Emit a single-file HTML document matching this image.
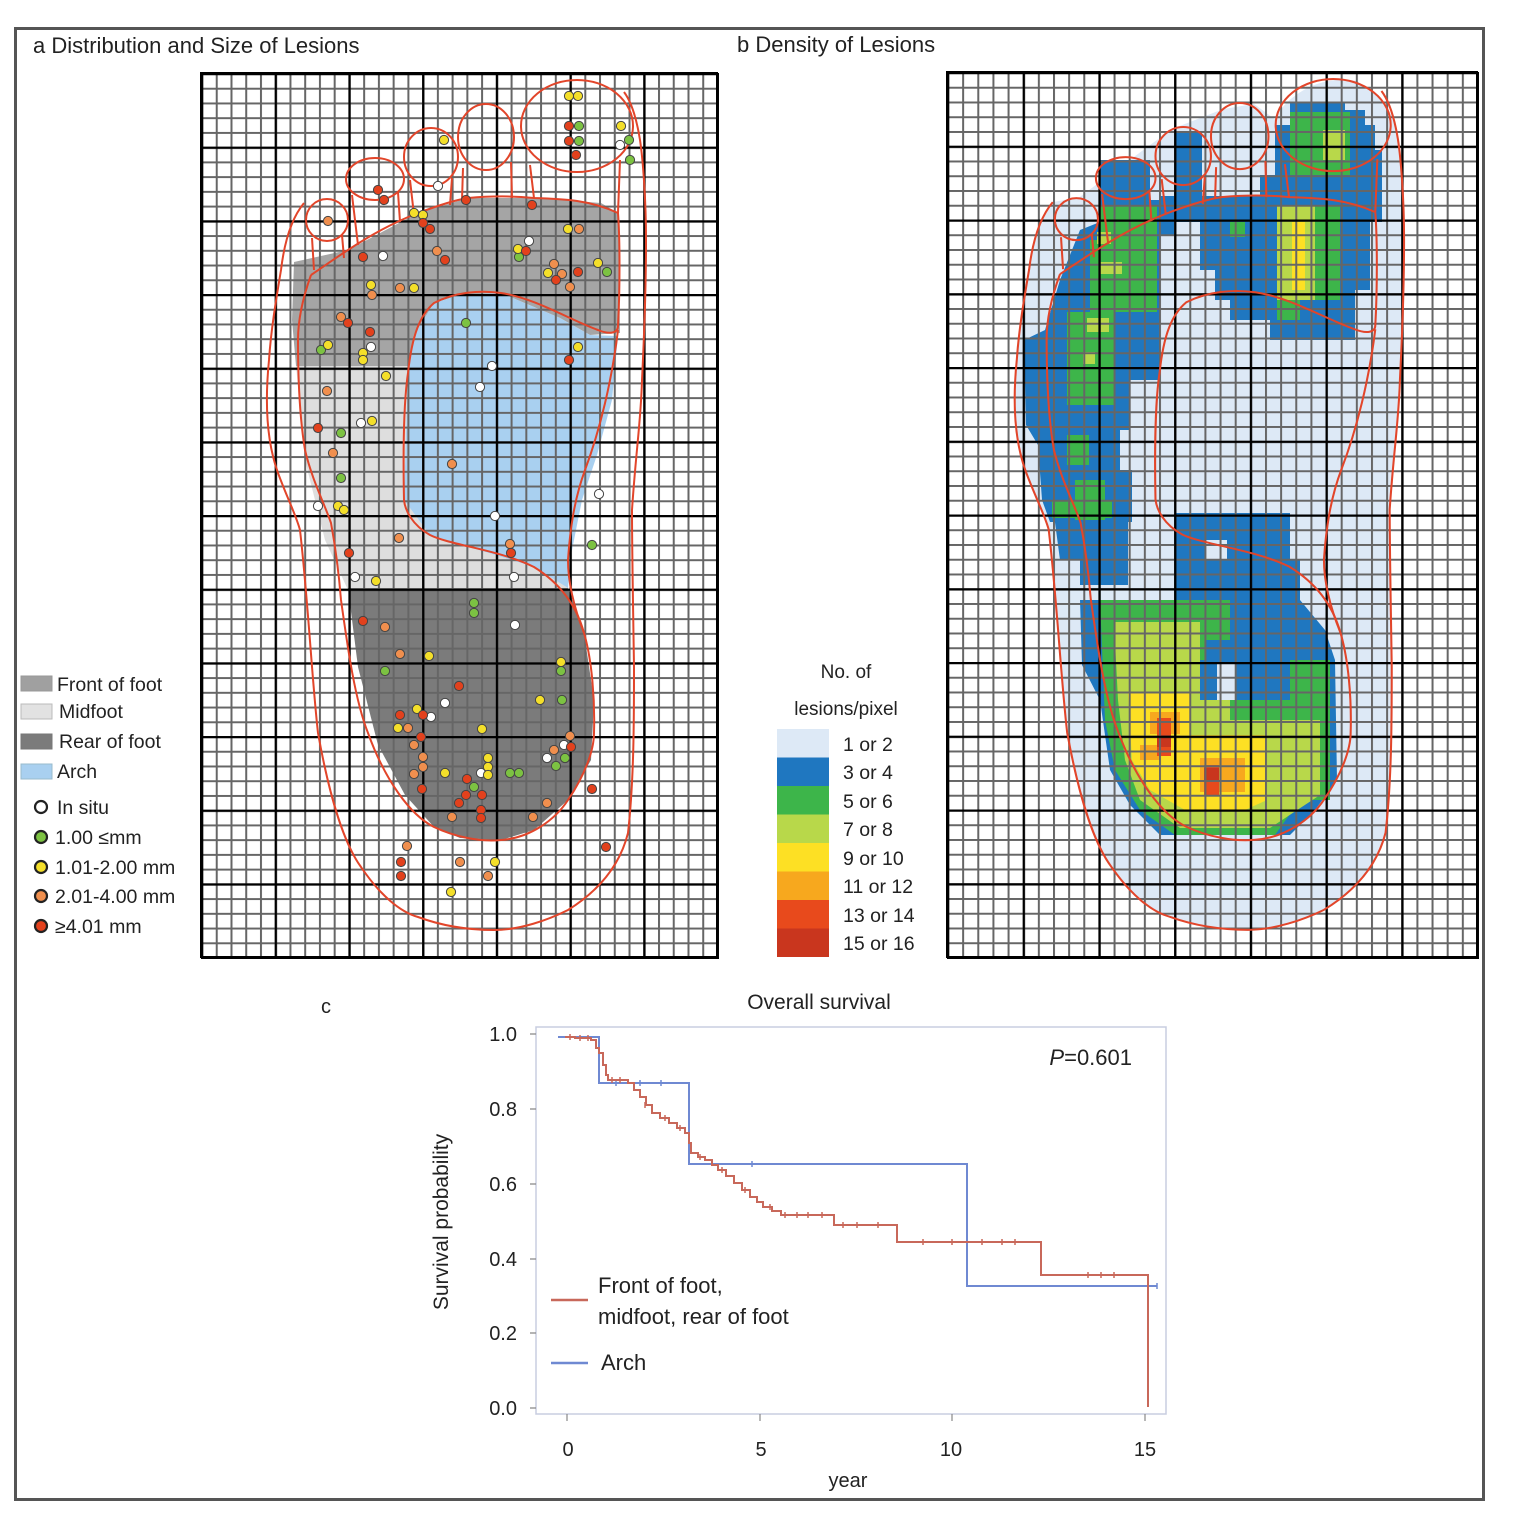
<!DOCTYPE html>
<html><head><meta charset="utf-8">
<style>
html,body{margin:0;padding:0;background:#fff;}
svg{display:block;}
text{font-family:"Liberation Sans",Arial,sans-serif;fill:#222;}
</style></head>
<body>
<svg width="1536" height="1525" viewBox="0 0 1536 1525" xmlns="http://www.w3.org/2000/svg">
<defs>
  <pattern id="fa" patternUnits="userSpaceOnUse" x="201" y="73" width="14.742" height="14.734">
    <path d="M1 0 V14.734 M0 1 H14.742" stroke="#666" stroke-width="2" fill="none"/>
  </pattern>
  <pattern id="ta" patternUnits="userSpaceOnUse" x="201" y="73" width="73.71" height="73.67">
    <path d="M1 0 V73.67 M0 1 H73.71" stroke="#000" stroke-width="2.6" fill="none"/>
  </pattern>
  <pattern id="fb" patternUnits="userSpaceOnUse" x="947" y="72" width="15.142" height="14.75">
    <path d="M1 0 V14.75 M0 1 H15.142" stroke="#666" stroke-width="2" fill="none"/>
  </pattern>
  <pattern id="tb" patternUnits="userSpaceOnUse" x="947" y="72" width="75.71" height="73.75">
    <path d="M1 0 V73.75 M0 1 H75.71" stroke="#000" stroke-width="2.6" fill="none"/>
  </pattern>
  <g id="outline" fill="none" stroke="#e2452a" stroke-width="2">
    <path d="M304,203 C290,220 284,245 281,270 C276,300 271,330 269,360 C265,400 266,440 278,473 C288,500 296,515 300,530 C308,600 312,680 318,733 C330,800 345,845 361,867 C380,895 400,912 418,917 C445,927 470,930 494,930 C520,930 548,920 568,910 C600,890 620,865 628,833 C634,780 634,720 634,667 C633,600 632,550 632,510 C636,450 641,420 642,380 C645,320 646,280 646,240 C646,200 643,160 640,140 C636,115 630,100 624,92"/>
    <ellipse cx="577" cy="126" rx="56" ry="46"/>
    <ellipse cx="486" cy="137" rx="28" ry="33"/>
    <ellipse cx="431" cy="157" rx="27" ry="29"/>
    <ellipse cx="375" cy="179" rx="29" ry="21"/>
    <circle cx="327" cy="220" r="21"/>
    <path d="M311,275 C330,262 340,255 348,250 C375,232 400,220 418,213 C440,205 455,200 468,198 C490,196 515,196 534,198 C565,199 590,200 618,213"/>
    <path d="M463,168 L462,200 M511,162 L512,198 M410,180 L414,215 M452,178 L450,205 M352,195 L358,245 M398,192 L400,222 M312,238 L314,270 M342,235 L344,258 M530,165 L534,198 M620,160 L618,213"/>
    <path d="M311,275 C302,300 298,320 298,340 C298,380 300,420 305,450 C312,480 325,505 331,523 C336,550 339,575 341,600 C348,650 355,700 368,733 C385,780 410,815 434,827 C455,837 480,842 501,840 C530,838 555,820 568,800 C585,775 594,750 594,733 C595,700 592,660 584,633 C575,600 555,580 534,567 C500,550 450,545 430,535 C412,525 405,510 404,500 C403,450 404,400 408,373 C412,335 420,315 434,303 C455,292 480,290 501,293 C535,298 570,320 598,330 C610,335 618,333 618,326 C620,290 620,240 618,213"/>
    <path d="M618,330 C612,380 600,430 585,470 C574,500 570,530 568,560 C568,585 575,610 584,633"/>
  </g>
</defs>

<rect x="15.5" y="28.5" width="1468" height="1471" fill="#fff" stroke="#555" stroke-width="3"/>

<!-- PANEL A -->
<rect x="201" y="73" width="516" height="884" fill="#fff"/>
<polygon fill="#a5a5a5" points="294,262 348,250 418,213 468,198 534,198 601,203 618,213 620,333 590,335 560,318 501,293 460,295 434,303 414,335 408,366 296,366 292,320"/>
<polygon fill="#dedede" points="296,366 408,366 404,500 430,535 534,567 568,588 348,590 325,540 305,460"/>
<polygon fill="#a9d0f0" points="408,366 414,335 434,303 460,295 501,293 560,318 590,335 618,336 612,400 597,455 582,500 571,555 568,588 534,567 430,535 404,500"/>
<polygon fill="#7b7b7b" points="348,588 568,588 584,633 594,700 591,760 568,800 534,830 501,840 460,838 434,827 405,795 378,745 358,667"/>
<rect x="201" y="73" width="516" height="884" fill="url(#fa)"/>
<rect x="201" y="73" width="518" height="886" fill="url(#ta)"/>
<rect x="201" y="73" width="516" height="884" fill="none" stroke="#000" stroke-width="2"/>
<use href="#outline"/>

<g stroke="#444" stroke-width="1">
<g fill="#ffffff">
<circle cx="620" cy="145" r="4.6"/><circle cx="438" cy="186" r="4.6"/><circle cx="529" cy="241" r="4.6"/><circle cx="383" cy="256" r="4.6"/><circle cx="371" cy="347" r="4.6"/><circle cx="492" cy="366" r="4.6"/><circle cx="480" cy="387" r="4.6"/><circle cx="361" cy="423" r="4.6"/><circle cx="318" cy="506" r="4.6"/><circle cx="599" cy="494" r="4.6"/><circle cx="495" cy="516" r="4.6"/><circle cx="355" cy="577" r="4.6"/><circle cx="514" cy="577" r="4.6"/><circle cx="515" cy="625" r="4.6"/><circle cx="445" cy="703" r="4.6"/><circle cx="431" cy="717" r="4.6"/><circle cx="564" cy="745" r="4.6"/><circle cx="547" cy="758" r="4.6"/><circle cx="481" cy="773" r="4.6"/>
</g>
<g fill="#7cc242">
<circle cx="579" cy="126" r="4.6"/><circle cx="579" cy="141" r="4.6"/><circle cx="629" cy="140" r="4.6"/><circle cx="630" cy="160" r="4.6"/><circle cx="519" cy="257" r="4.6"/><circle cx="607" cy="272" r="4.6"/><circle cx="466" cy="323" r="4.6"/><circle cx="321" cy="350" r="4.6"/><circle cx="341" cy="433" r="4.6"/><circle cx="341" cy="478" r="4.6"/><circle cx="592" cy="545" r="4.6"/><circle cx="474" cy="603" r="4.6"/><circle cx="474" cy="613" r="4.6"/><circle cx="385" cy="671" r="4.6"/><circle cx="561" cy="671" r="4.6"/><circle cx="562" cy="700" r="4.6"/><circle cx="565" cy="758" r="4.6"/><circle cx="556" cy="766" r="4.6"/><circle cx="510" cy="773" r="4.6"/><circle cx="519" cy="773" r="4.6"/><circle cx="474" cy="787" r="4.6"/>
</g>
<g fill="#f4df2a">
<circle cx="569" cy="96" r="4.6"/><circle cx="578" cy="96" r="4.6"/><circle cx="621" cy="126" r="4.6"/><circle cx="444" cy="140" r="4.6"/><circle cx="414" cy="213" r="4.6"/><circle cx="423" cy="215" r="4.6"/><circle cx="568" cy="229" r="4.6"/><circle cx="518" cy="249" r="4.6"/><circle cx="598" cy="263" r="4.6"/><circle cx="548" cy="273" r="4.6"/><circle cx="371" cy="285" r="4.6"/><circle cx="414" cy="288" r="4.6"/><circle cx="328" cy="345" r="4.6"/><circle cx="363" cy="353" r="4.6"/><circle cx="363" cy="360" r="4.6"/><circle cx="578" cy="347" r="4.6"/><circle cx="386" cy="376" r="4.6"/><circle cx="372" cy="421" r="4.6"/><circle cx="338" cy="506" r="4.6"/><circle cx="344" cy="510" r="4.6"/><circle cx="376" cy="581" r="4.6"/><circle cx="429" cy="656" r="4.6"/><circle cx="561" cy="662" r="4.6"/><circle cx="540" cy="700" r="4.6"/><circle cx="417" cy="709" r="4.6"/><circle cx="398" cy="728" r="4.6"/><circle cx="482" cy="729" r="4.6"/><circle cx="488" cy="758" r="4.6"/><circle cx="488" cy="767" r="4.6"/><circle cx="488" cy="775" r="4.6"/><circle cx="445" cy="773" r="4.6"/><circle cx="495" cy="862" r="4.6"/><circle cx="451" cy="892" r="4.6"/>
</g>
<g fill="#f08f4e">
<circle cx="328" cy="221" r="4.6"/><circle cx="579" cy="229" r="4.6"/><circle cx="437" cy="251" r="4.6"/><circle cx="554" cy="264" r="4.6"/><circle cx="562" cy="274" r="4.6"/><circle cx="570" cy="287" r="4.6"/><circle cx="372" cy="295" r="4.6"/><circle cx="400" cy="288" r="4.6"/><circle cx="341" cy="317" r="4.6"/><circle cx="327" cy="391" r="4.6"/><circle cx="333" cy="453" r="4.6"/><circle cx="452" cy="464" r="4.6"/><circle cx="399" cy="538" r="4.6"/><circle cx="510" cy="544" r="4.6"/><circle cx="385" cy="627" r="4.6"/><circle cx="400" cy="654" r="4.6"/><circle cx="408" cy="728" r="4.6"/><circle cx="414" cy="745" r="4.6"/><circle cx="570" cy="736" r="4.6"/><circle cx="554" cy="750" r="4.6"/><circle cx="423" cy="757" r="4.6"/><circle cx="423" cy="767" r="4.6"/><circle cx="414" cy="774" r="4.6"/><circle cx="547" cy="803" r="4.6"/><circle cx="452" cy="817" r="4.6"/><circle cx="533" cy="817" r="4.6"/><circle cx="407" cy="846" r="4.6"/><circle cx="460" cy="862" r="4.6"/><circle cx="488" cy="876" r="4.6"/>
</g>
<g fill="#e2411d">
<circle cx="569" cy="126" r="4.6"/><circle cx="569" cy="141" r="4.6"/><circle cx="576" cy="155" r="4.6"/><circle cx="378" cy="190" r="4.6"/><circle cx="384" cy="200" r="4.6"/><circle cx="466" cy="200" r="4.6"/><circle cx="532" cy="205" r="4.6"/><circle cx="423" cy="223" r="4.6"/><circle cx="430" cy="229" r="4.6"/><circle cx="526" cy="251" r="4.6"/><circle cx="363" cy="257" r="4.6"/><circle cx="445" cy="260" r="4.6"/><circle cx="556" cy="280" r="4.6"/><circle cx="578" cy="272" r="4.6"/><circle cx="348" cy="323" r="4.6"/><circle cx="370" cy="332" r="4.6"/><circle cx="569" cy="360" r="4.6"/><circle cx="318" cy="428" r="4.6"/><circle cx="511" cy="553" r="4.6"/><circle cx="349" cy="553" r="4.6"/><circle cx="363" cy="621" r="4.6"/><circle cx="459" cy="686" r="4.6"/><circle cx="400" cy="715" r="4.6"/><circle cx="423" cy="715" r="4.6"/><circle cx="421" cy="737" r="4.6"/><circle cx="571" cy="747" r="4.6"/><circle cx="467" cy="779" r="4.6"/><circle cx="422" cy="789" r="4.6"/><circle cx="466" cy="795" r="4.6"/><circle cx="459" cy="803" r="4.6"/><circle cx="482" cy="795" r="4.6"/><circle cx="592" cy="789" r="4.6"/><circle cx="481" cy="810" r="4.6"/><circle cx="481" cy="818" r="4.6"/><circle cx="606" cy="847" r="4.6"/><circle cx="401" cy="862" r="4.6"/><circle cx="401" cy="876" r="4.6"/>
</g>
</g>

<rect x="21" y="676" width="31" height="15" fill="#a0a0a0" stroke="#999"/>
<rect x="21" y="704" width="31" height="15" fill="#e2e2e2" stroke="#bbb"/>
<rect x="21" y="734" width="31" height="15" fill="#7b7b7b" stroke="#777"/>
<rect x="21" y="764" width="31" height="15" fill="#a9d0f0" stroke="#9bc"/>
<g stroke="#222" stroke-width="2.2">
<circle cx="41" cy="807" r="6" fill="#fff"/>
<circle cx="41" cy="837" r="6" fill="#7cc242"/>
<circle cx="41" cy="867" r="6" fill="#f4df2a"/>
<circle cx="41" cy="896" r="6" fill="#f08f4e"/>
<circle cx="41" cy="926" r="6" fill="#e2411d"/>
</g>
<g font-size="19.5">
<text x="57" y="691">Front of foot</text>
<text x="59" y="718">Midfoot</text>
<text x="59" y="748">Rear of foot</text>
<text x="57" y="778">Arch</text>
<text x="57" y="814">In situ</text>
<text x="55" y="844">1.00 ≤mm</text>
<text x="55" y="874">1.01-2.00 mm</text>
<text x="55" y="903">2.01-4.00 mm</text>
<text x="55" y="933">≥4.01 mm</text>
</g>

<text x="33" y="53" font-size="22">a  Distribution and Size of Lesions</text>
<text x="737" y="52" font-size="22">b  Density of Lesions</text>

<!-- PANEL B -->
<rect x="947" y="72" width="530" height="885" fill="#fff"/>
<g transform="translate(947,72) scale(1.0271,1.001) translate(-201,-73)">
  <path fill="#dde9f6" d="M304,203 C290,220 284,245 281,270 C276,300 271,330 269,360 C265,400 266,440 278,473 C288,500 296,515 300,530 C308,600 312,680 318,733 C330,800 345,845 361,867 C380,895 400,912 418,917 C445,927 470,930 494,930 C520,930 548,920 568,910 C600,890 620,865 628,833 C634,780 634,720 634,667 C633,600 632,550 632,510 C636,450 641,420 642,380 C645,320 646,280 646,240 C646,200 643,160 640,140 C636,115 630,100 600,82 C560,75 530,100 520,120 L500,105 L470,110 L420,130 L380,160 L330,198 Z"/>
</g>
<g>
  <g fill="#1f77c0">
    <path d="M1290,102 H1345 V110 H1365 V125 H1375 V150 H1382 V205 H1260 V175 H1275 V125 H1290 Z"/>
    <rect x="1174" y="132" width="28" height="72"/>
    <rect x="1100" y="160" width="50" height="45"/>
    <rect x="1160" y="196" width="222" height="26"/>
    <path d="M1100,200 H1174 V235 H1160 V380 H1130 V430 H1120 V470 H1132 V522 H1050 L1042,500 L1038,445 L1026,425 L1024,340 L1045,330 L1060,280 L1080,230 L1100,222 Z"/>
    <path d="M1200,222 H1262 V320 H1230 V300 H1215 V270 H1200 Z"/>
    <path d="M1262,199 H1370 V290 H1355 V340 H1270 V320 H1262 Z"/>
    <path d="M1052,500 H1128 V585 H1080 V560 H1060 Z"/>
    <path d="M1174,513 H1290 V560 H1300 V600 H1174 Z"/>
    <path d="M1080,600 H1300 L1325,630 L1335,660 L1337,780 L1315,810 L1290,835 L1160,835 L1130,805 L1110,770 L1100,700 L1082,665 Z"/>
  </g>
  <rect x="1217" y="663" width="18" height="40" fill="#dde9f6"/>
  <rect x="1205" y="540" width="22" height="20" fill="#dde9f6"/>
  <g fill="#3db54a">
    <path d="M1290,112 H1350 V175 H1290 Z"/>
    <path d="M1100,205 H1157 V312 H1114 V405 H1067 V312 H1090 V240 H1100 Z"/>
    <rect x="1067" y="435" width="22" height="30"/>
    <rect x="1075" y="480" width="30" height="40"/>
    <path d="M1277,205 H1340 V300 H1300 V320 H1277 Z"/>
    <rect x="1230" y="222" width="15" height="15"/>
    <path d="M1100,600 H1230 V640 H1205 V660 H1200 V700 H1290 V660 H1330 V800 H1300 L1275,835 H1175 L1140,810 L1115,770 L1105,720 Z"/>
    <rect x="1052" y="500" width="60" height="18"/>
  </g>
  <g fill="#b8d84a">
    <rect x="1323" y="130" width="22" height="30"/>
    <rect x="1097" y="232" width="14" height="12"/>
    <rect x="1100" y="262" width="22" height="12"/>
    <rect x="1087" y="318" width="22" height="14"/>
    <rect x="1083" y="352" width="12" height="12"/>
    <path d="M1277,205 H1315 V300 H1277 Z"/>
    <path d="M1114,622 H1200 V700 H1230 V720 H1320 V795 L1270,828 H1180 L1140,800 L1125,760 L1118,700 Z"/>
  </g>
  <g fill="#fde024">
    <rect x="1292" y="222" width="13" height="68"/>
    <path d="M1128,693 H1190 V735 H1267 V800 L1245,810 H1185 L1150,790 L1132,760 Z"/>
  </g>
  <g fill="#f7a81e">
    <rect x="1150" y="712" width="30" height="22"/>
    <rect x="1200" y="758" width="45" height="34"/>
    <rect x="1140" y="745" width="20" height="15"/>
  </g>
  <g fill="#e84a1c">
    <rect x="1157" y="718" width="14" height="38"/>
    <rect x="1204" y="765" width="15" height="30"/>
  </g>
  <g fill="#c9361e">
    <rect x="1157" y="735" width="14" height="12"/>
    <rect x="1204" y="768" width="15" height="12"/>
  </g>
</g>
<rect x="947" y="72" width="530" height="885" fill="url(#fb)"/>
<rect x="947" y="72" width="532" height="887" fill="url(#tb)"/>
<rect x="947" y="72" width="530" height="885" fill="none" stroke="#000" stroke-width="2"/>
<g transform="translate(947,72) scale(1.0271,1.001) translate(-201,-73)">
  <use href="#outline"/>
</g>

<text x="846" y="678" font-size="19" text-anchor="middle">No. of</text>
<text x="846" y="715" font-size="19" text-anchor="middle">lesions/pixel</text>
<rect x="777" y="729" width="52" height="28.5" fill="#dde9f6"/>
<rect x="777" y="757.5" width="52" height="28.5" fill="#1f77c0"/>
<rect x="777" y="786" width="52" height="28.5" fill="#3db54a"/>
<rect x="777" y="814.5" width="52" height="28.5" fill="#b8d84a"/>
<rect x="777" y="843" width="52" height="28.5" fill="#fde024"/>
<rect x="777" y="871.5" width="52" height="28.5" fill="#f7a81e"/>
<rect x="777" y="900" width="52" height="28.5" fill="#e84a1c"/>
<rect x="777" y="928.5" width="52" height="28.5" fill="#c9361e"/>
<g font-size="19.5">
<text x="843" y="751">1 or 2</text>
<text x="843" y="779">3 or 4</text>
<text x="843" y="808">5 or 6</text>
<text x="843" y="836">7 or 8</text>
<text x="843" y="865">9 or 10</text>
<text x="843" y="893">11 or 12</text>
<text x="843" y="922">13 or 14</text>
<text x="843" y="950">15 or 16</text>
</g>

<!-- PANEL C -->
<text x="321" y="1013" font-size="20">c</text>
<text x="819" y="1009" font-size="21" text-anchor="middle">Overall survival</text>
<rect x="536" y="1027" width="630" height="387" fill="none" stroke="#c8cde0" stroke-width="1.5"/>
<g stroke="#888" stroke-width="1.2">
  <path d="M530,1034 H536 M530,1109 H536 M530,1184 H536 M530,1259 H536 M530,1333 H536 M530,1408 H536"/>
  <path d="M567,1414 V1421 M760,1414 V1421 M952,1414 V1421 M1145,1414 V1421"/>
</g>
<g font-size="20" text-anchor="end">
<text x="517" y="1041">1.0</text>
<text x="517" y="1116">0.8</text>
<text x="517" y="1191">0.6</text>
<text x="517" y="1266">0.4</text>
<text x="517" y="1340">0.2</text>
<text x="517" y="1415">0.0</text>
</g>
<g font-size="20" text-anchor="middle">
<text x="568" y="1456">0</text>
<text x="761" y="1456">5</text>
<text x="951" y="1456">10</text>
<text x="1145" y="1456">15</text>
<text x="848" y="1487">year</text>
</g>
<text transform="translate(448,1222) rotate(-90)" font-size="21" text-anchor="middle">Survival probability</text>
<text x="1132" y="1065" font-size="22" text-anchor="end"><tspan font-style="italic">P</tspan>=0.601</text>

<path d="M558,1037 H599 V1083 H689 V1164 H967 V1286 H1157" fill="none" stroke="#6f89d2" stroke-width="2"/>
<g stroke="#6f89d2" stroke-width="1.5">
<path d="M616,1080 V1086 M640,1080 V1086 M661,1080 V1086 M752,1161 V1167 M1157,1283 V1289"/>
</g>
<path d="M565,1037 H575 V1038 H591 V1040 H596 V1048 H599 V1053 H603 V1065 H606 V1075 H608 V1080 H628 V1083 H634 V1090 H640 V1097 H646 V1105 H652 V1113 H660 V1118 H669 V1123 H677 V1128 H685 V1133 H689 V1143 H691 V1153 H698 V1157 H705 V1160 H712 V1165 H718 V1170 H726 V1176 H734 V1183 H742 V1190 H750 V1197 H757 V1202 H763 V1207 H772 V1211 H781 V1215 H834 V1225 H897 V1242 H1041 V1275 H1148 V1407" fill="none" stroke="#c8685a" stroke-width="2"/>
<g stroke="#c8685a" stroke-width="1.5">
<path d="M570,1034 V1040 M580,1035 V1041 M588,1035 V1041 M612,1077 V1083 M620,1077 V1083 M645,1102 V1108 M665,1115 V1121 M680,1125 V1131 M700,1154 V1160 M722,1167 V1173 M745,1187 V1193 M770,1204 V1210 M785,1212 V1218 M797,1212 V1218 M808,1212 V1218 M822,1212 V1218 M843,1222 V1228 M857,1222 V1228 M878,1222 V1228 M923,1239 V1245 M952,1239 V1245 M982,1239 V1245 M1002,1239 V1245 M1015,1239 V1245 M1088,1272 V1278 M1101,1272 V1278 M1114,1272 V1278"/>
</g>
<path d="M551,1300 H588" stroke="#c8685a" stroke-width="2.5"/>
<path d="M551,1363 H588" stroke="#6f89d2" stroke-width="2.5"/>
<g font-size="22">
<text x="598" y="1293">Front of foot,</text>
<text x="598" y="1324">midfoot, rear of foot</text>
<text x="601" y="1370">Arch</text>
</g>
</svg>
</body></html>
